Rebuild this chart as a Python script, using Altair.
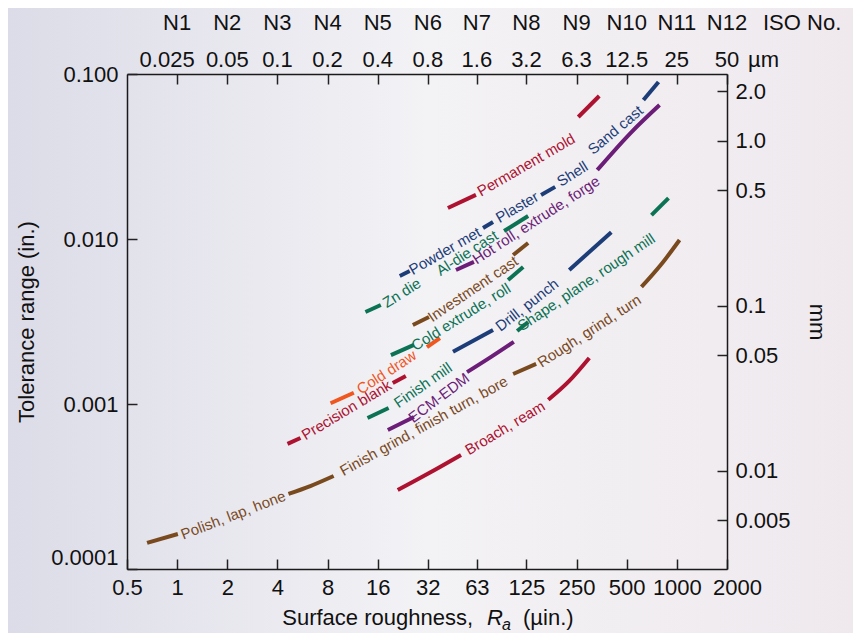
import altair as alt
import pandas as pd

FONT = "Liberation Sans"

# ---------------- axis values ----------------
ra_ticks = [0.5, 1, 2, 4, 8, 16, 32, 63, 125, 250, 500, 1000, 2000]
iso_ra = [1, 2, 4, 8, 16, 32, 63, 125, 250, 500, 1000, 2000]
iso_numbers = ["N1", "N2", "N3", "N4", "N5", "N6", "N7", "N8", "N9", "N10", "N11", "N12"]
iso_micrometres = ["0.025", "0.05", "0.1", "0.2", "0.4", "0.8", "1.6", "3.2", "6.3", "12.5", "25", "50"]
tol_ticks = [0.0001, 0.001, 0.01, 0.1]
mm_ticks = [0.005, 0.01, 0.05, 0.1, 0.5, 1.0, 2.0]

palette = {
    "brown": "#7a4a1f",
    "crimson": "#ad1230",
    "navy": "#1c3d78",
    "teal": "#0b7254",
    "purple": "#6b1d78",
    "orange": "#f0561f",
}

# ---------------- curve segments: (colour, Ra in µin, tolerance in in.) ----------------
segments = [
    ("brown", [0.66, 1.01], [1.44e-4, 1.63e-4]),
    ("brown", [4.66, 6.3, 8.7], [2.85e-4, 3.18e-4, 3.66e-4]),
    ("brown", [104, 143], [1.52e-3, 1.75e-3]),
    ("brown", [613, 809, 1038], [5.12e-3, 7.05e-3, 9.86e-3]),
    ("crimson", [21.1, 33.4, 50.6], [3.01e-4, 3.87e-4, 4.91e-4]),
    ("crimson", [169, 226, 298], [1.06e-3, 1.38e-3, 1.90e-3]),
    ("crimson", [42.2, 62.2], [0.0154, 0.0185]),
    ("crimson", [256, 342], [0.0549, 0.0736]),
    ("crimson", [4.6, 5.5], [5.73e-4, 6.22e-4]),
    ("crimson", [19.7, 23.6], [1.34e-3, 1.48e-3]),
    ("navy", [21.7, 24.9], [5.97e-3, 6.40e-3]),
    ("navy", [68.6, 78.8], [0.01167, 0.01268]),
    ("navy", [153, 186], [0.0185, 0.0207]),
    ("navy", [630, 776], [0.0695, 0.0895]),
    ("navy", [45.3, 78.8], [2.07e-3, 2.81e-3]),
    ("navy", [226, 404], [6.49e-3, 0.0110]),
    ("teal", [13.5, 16.7], [3.61e-3, 3.98e-3]),
    ("teal", [91.8, 128], [0.01118, 0.01378]),
    ("teal", [19.2, 26.4], [1.98e-3, 2.28e-3]),
    ("teal", [97, 119.5], [5.64e-3, 6.76e-3]),
    ("teal", [110, 128], [2.77e-3, 3.14e-3]),
    ("teal", [704, 891], [0.01397, 0.0177]),
    ("teal", [13.9, 18.6], [8.23e-4, 9.46e-4]),
    ("purple", [47.2, 60.5], [6.49e-3, 7.26e-3]),
    ("purple", [333, 534, 787], [0.0262, 0.0445, 0.0649]),
    ("purple", [18.4, 26.4], [6.96e-4, 8.34e-4]),
    ("purple", [55, 76.7, 105], [1.56e-3, 1.93e-3, 2.38e-3]),
    ("brown", [26, 32.5], [3.01e-3, 3.37e-3]),
    ("brown", [104, 128], [8.0e-3, 9.46e-3]),
    ("orange", [8.34, 11.5], [1.01e-3, 1.17e-3]),
    ("orange", [31.6, 37.8], [2.21e-3, 2.51e-3]),
]

# ---------------- process labels: (text, colour, Ra, tolerance, angle) ----------------
labels = [
    ("Polish, lap, hone", "brown", 2.17, 2.12e-4, -21),
    ("Finish grind, finish turn, bore", "brown", 30.3, 7.36e-4, -29),
    ("Rough, grind, turn", "brown", 298, 2.77e-3, -33),
    ("Broach, ream", "crimson", 93, 7.16e-4, -31),
    ("Permanent mold", "crimson", 124.5, 0.0281, -30),
    ("Precision blank", "crimson", 10.4, 9.2e-4, -31),
    ("Powder met", "navy", 40.5, 8.46e-3, -30),
    ("Plaster", "navy", 110, 0.0156, -30),
    ("Shell", "navy", 236, 0.0248, -32),
    ("Sand cast", "navy", 428, 0.0458, -40),
    ("Drill, punch", "navy", 126, 3.98e-3, -38),
    ("Zn die", "teal", 22.3, 4.71e-3, -32),
    ("Al-die cast", "teal", 55, 8.22e-3, -33),
    ("Cold extrude, roll", "teal", 50.6, 3.37e-3, -32),
    ("Shape, plane, rough mill", "teal", 286, 5.48e-3, -34),
    ("Finish mill", "teal", 29.9, 1.30e-3, -35),
    ("Hot roll, extrude, forge", "purple", 143, 0.01303, -33),
    ("ECM-EDM", "purple", 37.3, 1.09e-3, -37),
    ("Investment cast", "brown", 59.7, 4.98e-3, -34),
    ("Cold draw", "orange", 18.1, 1.56e-3, -33),
]

rows = []
for i, (c, ras, tols) in enumerate(segments):
    for r, t in zip(ras, tols):
        rows.append({"seg": i, "ra": r, "tol": t, "color": palette[c]})
line_df = pd.DataFrame(rows)

label_df = pd.DataFrame(
    [{"text": t, "ra": r, "tol": tol, "angle": (a + 360) % 360, "color": palette[c]}
     for t, c, r, tol, a in labels]
)
iso_df = pd.DataFrame({"ra": iso_ra, "iso": iso_numbers, "um": iso_micrometres})

W, H = 600, 495
PAD = {"left": 119, "top": 66, "right": 126, "bottom": 64}
inward = {"expr": "-10"}

x_scale = alt.Scale(type="log", domain=[0.5, 2000], nice=False)
y_scale = alt.Scale(type="log", domain=[0.0001, 0.1], nice=False)

bg = alt.Chart(pd.DataFrame({"a": [0]})).mark_rect(
    color=alt.LinearGradient(
        gradient="linear",
        stops=[
            alt.GradientStop(color="#dcdce8", offset=0),
            alt.GradientStop(color="#f3f2f5", offset=0.5),
            alt.GradientStop(color="#efe9ee", offset=1),
        ],
        x1=0, x2=1, y1=0, y2=0,
    )
).encode(
    x=alt.value(-PAD["left"]), x2=alt.value(W + PAD["right"]),
    y=alt.value(-PAD["top"]), y2=alt.value(H + PAD["bottom"]),
)

lines = alt.Chart(line_df).mark_line(strokeWidth=4, strokeCap="butt", interpolate="monotone").encode(
    x=alt.X("ra:Q", scale=x_scale,
            axis=alt.Axis(orient="bottom", values=ra_ticks, format="~g", title=None,
                          tickSize=inward, labelPadding=18, zindex=1,
                          labelFlush=False, labelOverlap=False,
                          labelOffset={"condition": {"test": "datum.value > 1500", "value": 10}, "value": 0})),
    y=alt.Y("tol:Q", scale=y_scale,
            axis=alt.Axis(orient="left", values=tol_ticks, title="Tolerance range (in.)",
                          labelExpr="datum.value > 0.05 ? '0.100' : datum.value > 0.005 ? '0.010' : datum.value > 0.0005 ? '0.001' : '0.0001'",
                          labelBaseline={"condition": {"test": "datum.value < 0.0002", "value": "bottom"}, "value": "middle"},
                          labelFlush=False, labelOverlap=False,
                          tickSize=inward, labelPadding=19, titlePadding=12, zindex=1)),
    detail="seg:N",
    color=alt.Color("color:N", scale=None),
    order="ra:Q",
)

texts = alt.Chart(label_df).mark_text(font=FONT, fontSize=15, align="center", baseline="middle").encode(
    x=alt.X("ra:Q", scale=x_scale, axis=None),
    y=alt.Y("tol:Q", scale=y_scale, axis=None),
    text="text:N",
    angle=alt.Angle("angle:Q", scale=None),
    color=alt.Color("color:N", scale=None),
)

top_iso = alt.Chart(iso_df).mark_text(font=FONT, fontSize=22, color="#111", baseline="middle").encode(
    x=alt.X("ra:Q", scale=x_scale,
            axis=alt.Axis(orient="top", values=iso_ra, labels=False, title=None, tickSize=inward, zindex=1)),
    y=alt.value(-51),
    text="iso:N",
)
top_um = alt.Chart(iso_df).transform_filter("datum.ra > 1").mark_text(
    font=FONT, fontSize=22, color="#111", baseline="middle"
).encode(
    x=alt.X("ra:Q", scale=x_scale, axis=None),
    y=alt.value(-14),
    text="um:N",
)
top_um_first = alt.Chart(iso_df).transform_filter("datum.ra <= 1").mark_text(
    font=FONT, fontSize=22, color="#111", baseline="middle", dx=-10
).encode(
    x=alt.X("ra:Q", scale=x_scale, axis=None),
    y=alt.value(-14),
    text="um:N",
)


def note(txt, x, y, size=22, style="normal", align="left", baseline="alphabetic"):
    return alt.Chart(pd.DataFrame({"t": [txt]})).mark_text(
        font=FONT, fontSize=size, fontStyle=style, align=align, baseline=baseline, color="#111"
    ).encode(x=alt.value(x), y=alt.value(y), text="t:N")


iso_title = note("ISO No.", 636, -51, baseline="middle")
um_unit = note("µm", 621, -14, baseline="middle")

xt1 = note("Surface roughness,", 346, 551, align="right")
xt2 = note("R", 360, 551, style="italic")
xt3 = note("a", 375, 556, size=16, style="italic")
xt4 = note("(µin.)", 396, 551)

inner = alt.layer(
    lines, texts, top_iso, top_um, top_um_first, iso_title, um_unit, xt1, xt2, xt3, xt4
).resolve_axis(x="independent", y="independent")

mm_layer = alt.Chart(pd.DataFrame({"mm": [0.00254, 2.54]})).mark_point(opacity=0).encode(
    y=alt.Y("mm:Q", scale=alt.Scale(type="log", domain=[0.00254, 2.54], nice=False),
            axis=alt.Axis(orient="right", values=mm_ticks, title="mm",
                          labelExpr="datum.value >= 1 ? format(datum.value, '.1f') : format(datum.value, '~g')",
                          labelFlush=False, labelOverlap=False,
                          tickSize=inward, labelPadding=18, titlePadding=14, zindex=1))
)

chart = alt.layer(bg, inner, mm_layer).resolve_scale(y="independent").properties(
    width=W, height=H, padding=PAD, autosize=alt.AutoSizeParams(type="none"), background="#ebe9ef"
).configure_view(stroke=None).configure_axis(
    labelFont=FONT, titleFont=FONT, labelFontSize=22, titleFontSize=22, titleFontWeight="normal",
    labelColor="#111", titleColor="#111", tickColor="#222", tickWidth=1.5,
    domain=True, domainColor="#1a1a1a", domainWidth=1.5, grid=False,
)

chart.save("out.html", embed_options={"renderer": "svg", "actions": False})
